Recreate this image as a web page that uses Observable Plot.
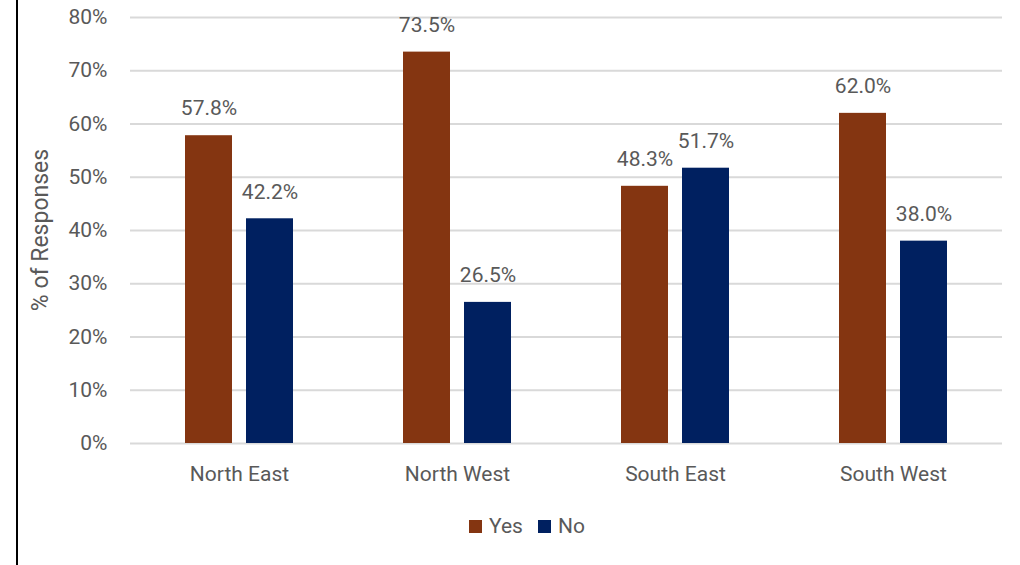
<!DOCTYPE html>
<html>
<head>
<meta charset="utf-8">
<script src="https://cdn.jsdelivr.net/npm/d3@7"></script>
<script src="https://cdn.jsdelivr.net/npm/@observablehq/plot@0.6"></script>
<style>
  html, body { margin: 0; padding: 0; background: #fff; }
  body { width: 1020px; height: 565px; position: relative; overflow: hidden; font-family: Roboto, "Noto Sans", sans-serif; }
  #edge { position: absolute; left: 16px; top: 0; width: 2px; height: 565px; background: #000; }
  #chart { position: absolute; left: 0; top: 0; }
  #ylabel { position: absolute; left: 40px; top: 230px; transform: translate(-50%, -50%) rotate(-90deg); white-space: nowrap; font-size: 23px; color: #595959; line-height: 1; }
  #legend { position: absolute; left: 469px; top: 514px; display: flex; align-items: center; font-size: 21px; color: #595959; }
  .sw { width: 13px; height: 13px; display: inline-block; margin-right: 7px; }
  .item { display: flex; align-items: center; margin-right: 15px; }
</style>
</head>
<body>
<div id="edge"></div>
<div id="chart"></div>
<div id="ylabel">% of Responses</div>
<div id="legend"></div>
<script>
const regions = ["North East", "North West", "South East", "South West"];
const answers = ["Yes", "No"];
const yesValues = [57.8, 73.5, 48.3, 62.0];
const noValues = [42.2, 26.5, 51.7, 38.0];
const yTicks = [0, 10, 20, 30, 40, 50, 60, 70, 80];
const colors = ["#843511", "#002060"];

const data = [];
regions.forEach((r, i) => {
  data.push({region: r, answer: "Yes", value: yesValues[i]});
  data.push({region: r, answer: "No", value: noValues[i]});
});

const chart = Plot.plot({
  width: 1020,
  height: 500,
  marginLeft: 128,
  marginRight: 17,
  marginTop: 17,
  marginBottom: 57,
  style: {fontFamily: "Roboto, 'Noto Sans', sans-serif", fontSize: "21px", color: "#595959", background: "transparent"},
  fx: {domain: regions, padding: 0, label: null, tickSize: 0, tickPadding: 23},
  x: {domain: answers, axis: null, paddingInner: 0.2258, paddingOuter: 0.877},
  y: {domain: [0, 80], ticks: yTicks, tickFormat: d => d + "%", tickSize: 0, tickPadding: 23, label: null},
  color: {domain: answers, range: colors},
  marks: [
    Plot.ruleY(yTicks, {stroke: "#d9d9d9", strokeWidth: 2}),
    Plot.barY(data, {fx: "region", x: "answer", y: "value", fill: "answer"}),
    Plot.text(data, {fx: "region", x: "answer", y: "value", text: d => d.value.toFixed(1) + "%",
      dy: -27, fill: "#595959", fontSize: 21})
  ]
});
document.getElementById("chart").appendChild(chart);

const legend = document.getElementById("legend");
answers.forEach((a, i) => {
  const item = document.createElement("span");
  item.className = "item";
  const sw = document.createElement("span");
  sw.className = "sw";
  sw.style.background = colors[i];
  item.appendChild(sw);
  item.appendChild(document.createTextNode(a));
  legend.appendChild(item);
});
</script>
</body>
</html>
